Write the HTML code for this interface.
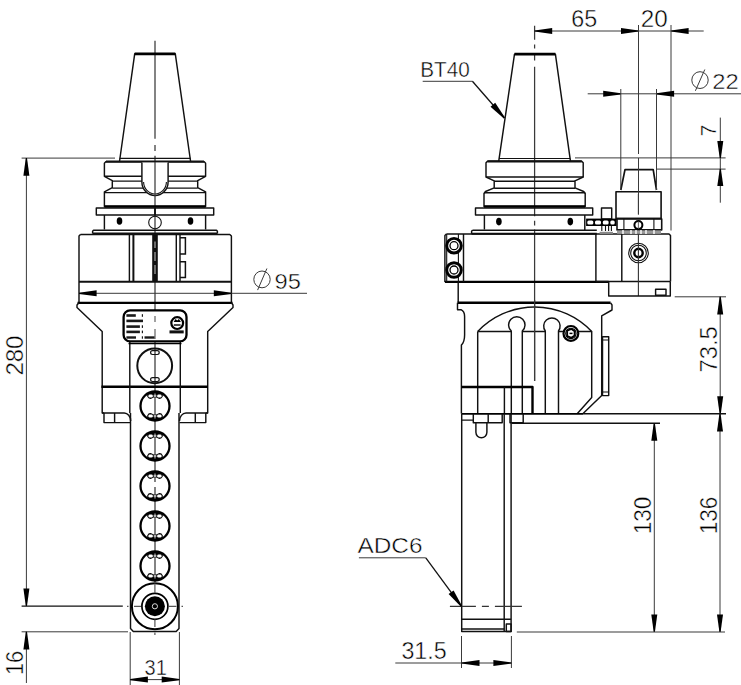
<!DOCTYPE html>
<html><head><meta charset="utf-8">
<style>
html,body{margin:0;padding:0;background:#fff;width:741px;height:685px;overflow:hidden}
svg{display:block}
.o{stroke:#111;stroke-width:1.45;fill:none;stroke-linejoin:round}
.t{stroke:#000;stroke-width:2.4;fill:none;stroke-linejoin:round}
.n{stroke:#111;stroke-width:1.1;fill:none}
.d{stroke:#3a3a3a;stroke-width:1;fill:none}
.c{stroke:#3a3a3a;stroke-width:1.25;fill:none}
.f{fill:#000;stroke:none}
text{font-family:"Liberation Sans",sans-serif;fill:#000;stroke:#fff;stroke-width:0.45}
</style></head><body>
<svg width="741" height="685" viewBox="0 0 741 685">
<!-- ================= LEFT VIEW ================= -->
<g id="L">
  <!-- centerline -->
  <path class="c" d="M155,40.7 V138.8 M155,145 V151 M155,155.7 V314 M155,319.5 V325 M155,330 V482 M155,487 V582"/>
  <!-- cone -->
  <path class="o" d="M119.5,161.5 L134.7,53.8 L175.3,53.8 L190.6,161.5"/>
  <line class="t" x1="134.7" y1="53.8" x2="175.3" y2="53.8" style="stroke-width:2.8"/>
  <line class="o" x1="119.5" y1="158.3" x2="190.6" y2="158.3" style="stroke-width:1.2"/>
  <!-- flange half (left) mirrored -->
  <g id="flL">
    <path class="o" d="M155,161.6 L106,161.6 L104.4,163.2 L104.4,176.3 L112.3,180.6 L112.3,187.6 L104.4,191.8 L104.4,206.5 L155,206.5"/>
    <line class="o" x1="104.4" y1="176.3" x2="155" y2="176.3"/>
    <line class="o" x1="112.3" y1="181.1" x2="155" y2="181.1"/>
    <line class="o" x1="112.3" y1="188.1" x2="155" y2="188.1"/>
    <line class="o" x1="104.4" y1="192.6" x2="155" y2="192.6"/>
    <line class="t" x1="104.4" y1="206.5" x2="155" y2="206.5"/>
    <rect class="o" x="96.3" y="208" width="58.7" height="7" />
    <path class="o" d="M104.4,215 L104.4,229.5"/>
    <ellipse class="f" cx="119.5" cy="221" rx="2.8" ry="3.8"/>
    <path class="o" d="M155,230.2 L93.5,230.2 L92.6,231.2 L92.6,233.6"/>
    <line class="o" x1="92.6" y1="233.6" x2="155" y2="233.6" style="stroke-width:2"/>
    <line class="o" x1="106" y1="161.6" x2="155" y2="161.6" style="stroke-width:2.2"/>
  </g>
  <use href="#flL" transform="translate(310,0) scale(-1,1)"/>
  <!-- U slot -->
  <path class="o" style="fill:#fff;fill:#fff" d="M141.9,162.4 L141.9,182 A13.1,13.6 0 0 0 168.1,182 L168.1,162.4"/>
  <path class="n" d="M143.6,182 A11.4,12 0 0 0 166.4,182"/>
  <line class="c" x1="155" y1="162" x2="155" y2="196"/>
  <circle class="n" cx="155" cy="222.5" r="6.3"/>
  <!-- housing -->
  <path class="o" d="M80.5,234.4 L229.8,234.4 L231.4,236 L231.4,302.7 M79,302.7 L79,236 L80.5,234.4"/>
  <line class="o" x1="79" y1="281.8" x2="231.4" y2="281.8" style="stroke-width:2"/>
  <line class="t" x1="77.5" y1="302.9" x2="232.5" y2="302.9"/>
  <line class="o" x1="129.4" y1="234.4" x2="129.4" y2="281.8"/>
  <line class="o" x1="133.4" y1="234.4" x2="133.4" y2="281.8" style="stroke-width:2"/>
  <rect x="152.2" y="235" width="5.6" height="46.5" fill="#111"/>
  <path d="M155,241.5 V248 M155,252 V261 M155,265 V274" stroke="#aaa" stroke-width="1.2"/>
  <line class="o" x1="176.3" y1="234.4" x2="176.3" y2="281.8"/>
  <line class="o" x1="180" y1="234.4" x2="180" y2="281.8"/>
  <path class="n" d="M180,237.8 L185.4,237.8 L185.4,254 L180,254 M180,261.7 L185.4,261.7 L185.4,277.6 L180,277.6" style="stroke-width:1.5"/>
  <!-- taper + lower block -->
  <path class="o" d="M79,302.7 L77,305 L77,307.5 L102.2,331.6 L102.2,413 L104,413 M231.4,302.7 L233,305 L233,307.5 L207.7,331.6 L207.7,413 L205.8,413"/>
  <line class="t" x1="101.4" y1="386.7" x2="207.9" y2="386.7"/>
  <line class="o" x1="129.8" y1="341.9" x2="129.8" y2="413"/>
  <line class="o" x1="180.3" y1="341.9" x2="180.3" y2="413"/>
  <!-- small feet -->
  <path class="o" d="M102.2,413 L104,413 L104,422.6 L114.6,422.6 L114.6,413 M104,413 L124,413 A6.5,8 0 0 1 130.7,421 M114.6,422.6 L130.7,422.6"/>
  <path class="o" d="M207.7,413 L205.8,413 L205.8,422.6 L195.3,422.6 L195.3,413 M205.8,413 L186,413 A6.5,8 0 0 0 179.5,421 M195.3,422.6 L179.5,422.6"/>
  <!-- arm -->
  <path class="o" d="M130.5,413 L130.5,628.5 L133.3,631.5 L176.2,631.5 L179,628.5 L179,413"/>
  <!-- label plate -->
  <rect x="123.6" y="310.4" width="62.9" height="31" rx="6.5" stroke="#000" stroke-width="2.3" fill="#fff"/>
  <g fill="#1a1a1a">
    <rect x="126.4" y="314.2" width="9.4" height="2.6"/><rect x="141.8" y="314.2" width="1.2" height="2.6"/>
    <rect x="126.4" y="319.6" width="15.6" height="2.6"/><rect x="142" y="319.6" width="1" height="2.6"/>
    <rect x="126.4" y="325.3" width="13.5" height="2.6"/><rect x="141.8" y="325.3" width="1.2" height="2.6"/>
    <rect x="126.4" y="330.6" width="13.5" height="2.6"/><rect x="141.8" y="330.6" width="1.2" height="2.6"/>
    <rect x="126.4" y="336.3" width="9.6" height="2.4"/><rect x="141.8" y="336.3" width="1.2" height="2.4"/><rect x="144.5" y="336.3" width="10.2" height="2.4"/>
  </g>
  <rect x="169.5" y="330.4" width="14.2" height="3" fill="#111"/>
  <circle cx="177.2" cy="323.1" r="5.9" fill="#fff" stroke="#000" stroke-width="2.2"/>
  <path d="M173.6,322 L175.6,319 L177.2,320.6 L178.9,319 L180.9,322 Z" fill="#000"/>
  <path d="M173.8,325 H180.6" stroke="#000" stroke-width="1.4"/>
  <path class="n" d="M155,316 V322 M155,329 V339" style="stroke:#555"/>
  <line x1="128.5" y1="343.6" x2="181.5" y2="343.6" stroke="#000" stroke-width="1.2"/>
  <!-- circles on arm -->
  <circle class="o" cx="154.7" cy="365.8" r="17.4" style="stroke-width:2"/>
  <rect class="n" x="150.6" y="350.6" width="8.6" height="3.9" rx="1.9" style="stroke-width:1.2"/><rect class="n" x="150.6" y="377.6" width="8.6" height="3.9" rx="1.9" style="stroke-width:1.2"/>
  <g id="bolt">
    <circle cx="155" cy="406" r="14.5" fill="none" stroke="#000" stroke-width="2.3"/>
    <g id="ear" transform="translate(155,406)">
      <path d="M-7.8,-12.3 A14.6,14.6 0 0 1 7.8,-12.3 L7.8,-9.5 Q6.5,-6.6 3.8,-7.2 L1.2,-8.4 L-1.2,-8.4 L-3.8,-7.2 Q-6.5,-6.6 -7.8,-9.5 Z" fill="#000"/>
      <rect x="-6.6" y="-11.6" width="4.4" height="3.2" rx="1.4" fill="#fff"/>
      <rect x="2.2" y="-11.6" width="4.4" height="3.2" rx="1.4" fill="#fff"/>
      <rect x="-1.3" y="-11.4" width="2.6" height="2.4" rx="0.8" fill="#fff"/>
      <line x1="0" y1="-13" x2="0" y2="-8" stroke="#666" stroke-width="1"/>
    </g>
    <use href="#ear" transform="translate(0,812) scale(1,-1)"/>
  </g>
  <use href="#bolt" transform="translate(0,40)"/>
  <use href="#bolt" transform="translate(0,80)"/>
  <use href="#bolt" transform="translate(0,120)"/>
  <use href="#bolt" transform="translate(0,160)"/>
  <!-- bottom nozzle -->
  <circle cx="154.9" cy="606.3" r="23" fill="#fff" stroke="#000" stroke-width="2"/>
  <circle cx="154.9" cy="606.3" r="13" fill="#fff" stroke="#000" stroke-width="1.7"/>
  <circle cx="154.9" cy="606.3" r="10" fill="#000"/>
  <circle cx="154.9" cy="606.3" r="2.6" fill="none" stroke="#ddd" stroke-width="1"/>
  <path d="M134,606.3 H141 M169,606.3 H176.5 M127,606.3 H128.5 M181.5,606.3 H183 M154.9,583.5 V593 M154.9,619.6 V627 M154.9,632.5 V635" stroke="#555" stroke-width="1.2"/>
</g>

<!-- ================= RIGHT VIEW ================= -->
<g id="R">
  <path class="c" d="M534.6,25.8 V39.7 M534.6,44.5 V48.5 M534.6,54.3 V60.6 M534.6,66.7 V216.2 M534.6,220.8 V225.4 M534.6,229.5 V381"/>
  <!-- cone -->
  <path class="o" d="M498.7,161.3 L514.5,54.2 L555.4,54.2 L570.5,161.3"/>
  <line class="t" x1="514.5" y1="54.2" x2="555.4" y2="54.2" style="stroke-width:2.8"/>
  <line class="o" x1="499" y1="158.5" x2="570.2" y2="158.5" style="stroke-width:1.2"/>
  <!-- flange -->
  <path class="o" d="M534.6,161.3 L487.5,161.3 L486,162.8 L486,177 L494.2,180.8 L494.2,187.8 L485.5,191.5 L484,193.5 L484,206.5 L534.6,206.5"/>
  <path class="o" d="M534.6,161.3 L581.7,161.3 L583.2,162.8 L583.2,177 L575,180.8 L575,187.8 L583.7,191.5 L585.2,193.5 L585.2,206.5 L534.6,206.5"/>
  <line class="o" x1="486" y1="177" x2="583.2" y2="177"/>
  <line class="o" x1="494.2" y1="181.2" x2="575" y2="181.2"/>
  <line class="o" x1="494.2" y1="188.2" x2="575" y2="188.2"/>
  <line class="o" x1="484" y1="192.7" x2="585.2" y2="192.7"/>
  <line class="t" x1="484" y1="206.5" x2="585.2" y2="206.5"/>
  <rect class="o" x="475.5" y="208" width="117.2" height="7"/>
  <line class="o" x1="484.4" y1="215" x2="484.4" y2="229.5"/>
  <line class="o" x1="584.8" y1="215" x2="584.8" y2="230.2"/>
  <ellipse class="f" cx="498.9" cy="221.6" rx="2.8" ry="3.8"/>
  <ellipse class="f" cx="570.3" cy="221.6" rx="2.8" ry="3.8"/>
  <path class="o" d="M472.5,230.2 L596.8,230.2 M472.5,230.2 L471.6,231.2 L471.6,233.8"/>
  <line class="o" x1="471.6" y1="233.8" x2="596.8" y2="233.8" style="stroke-width:2"/>
  <line class="o" x1="487.5" y1="161.3" x2="581.7" y2="161.3" style="stroke-width:2.2"/>
  <!-- housing -->
  <path class="o" d="M446.4,234 L669,234 L670.5,235.5 L670.5,281.5 M444.9,281.9 L444.9,235.5 L446.4,234"/>
  <line class="t" x1="444.9" y1="281.9" x2="608.7" y2="281.9"/>
  <line class="n" x1="446.7" y1="234" x2="446.7" y2="281.9"/>
  <line class="n" x1="458.4" y1="234" x2="458.4" y2="281.9"/>
  <line class="o" x1="463.5" y1="234" x2="463.5" y2="281.9"/>
  <line class="o" x1="595.9" y1="234" x2="595.9" y2="281.5"/>
  <line class="o" x1="621.8" y1="234" x2="621.8" y2="281.5"/>
  <line class="o" x1="595.9" y1="281.4" x2="670.5" y2="281.4"/>
  <g>
    <circle cx="454" cy="245.7" r="7.3" fill="#fff" stroke="#000" stroke-width="2.9"/>
    <circle cx="454" cy="245.7" r="4" fill="none" stroke="#000" stroke-width="1.3"/>
    <circle cx="454" cy="270" r="7.3" fill="#fff" stroke="#000" stroke-width="2.9"/>
    <circle cx="454" cy="270" r="4" fill="none" stroke="#000" stroke-width="1.3"/>
  </g>
  <circle class="n" cx="638.5" cy="253" r="9.8"/>
  <circle class="n" cx="638.5" cy="253" r="7.8"/>
  <circle class="t" cx="638.5" cy="253" r="4.2" style="stroke-width:2.4"/>
  <path class="n" d="M638.4,194 V214.4 M638.4,232 V296" style="stroke:#333"/>
  <!-- lower plate -->
  <path class="o" d="M608.7,281.4 L608.7,296 L670.3,296 L670.3,281.4"/>
  <rect class="o" x="655.6" y="289.2" width="10.4" height="6"/>
  <!-- top unit -->
  <path class="o" d="M620.8,190 L625,169.7 L653.2,169.7 L656.5,190" style="stroke-width:1.7"/>
  <rect class="o" x="616" y="191.8" width="45.1" height="26.8" style="stroke-width:1.6"/>
  <path class="o" d="M617,218.6 L617,229.9 L661.7,229.9 L661.7,218.6" style="stroke-width:1.6"/>
  <line class="o" x1="616" y1="218.6" x2="661.7" y2="218.6" style="stroke-width:1.8"/>
  <line class="n" x1="623.9" y1="218.6" x2="623.9" y2="229.9"/>
  <line class="n" x1="653.9" y1="218.6" x2="653.9" y2="229.9"/>
  <circle cx="638.4" cy="225.1" r="4" fill="#fff" stroke="#000" stroke-width="2"/>
  <line x1="638.4" y1="221.5" x2="638.4" y2="228.7" stroke="#666" stroke-width="1"/>
  <rect x="617" y="230.6" width="44" height="3.2" fill="#999"/>
  <path d="M623,230 v4 M631,230 v4 M636,230 v4 M641,230 v4 M646,230 v4 M654,230 v4" stroke="#fff" stroke-width="1.4"/>
  <rect class="o" x="601.5" y="208" width="10.2" height="11"/>
  <rect x="586.1" y="218.6" width="30.3" height="7.4" fill="#000"/>
  <g fill="#fff"><rect x="587.3" y="220.4" width="6" height="4" rx="1.5"/><rect x="595" y="220.4" width="6" height="4" rx="1.5"/><rect x="602.8" y="220.4" width="5.8" height="4" rx="1.5"/><rect x="610.3" y="220.4" width="4.4" height="4" rx="1.5"/></g>
  <path class="n" d="M601.8,226 V231 M605.5,226 V231 M608.6,226 V231 M611.4,226 V231 M616.4,218.6 H661.5"/>
  <rect x="599.6" y="231.8" width="13.4" height="2.2" fill="#888"/>
  <!-- lower section under housing -->
  <line class="o" x1="458.2" y1="281.9" x2="458.2" y2="302.6"/>
  <line class="t" x1="457.5" y1="302.8" x2="610.6" y2="302.8"/>
  <!-- body -->
  <path class="o" d="M457.5,302.8 L457.5,309.7 L461,309.7 Q464.6,311.5 464.6,316.5 L464.6,335 Q464.6,342 461.4,345 L461.4,413.6"/>
  <path class="o" d="M610.6,302.8 L612,305 L612,310 L601.7,315.9 L601.7,395.6 L583.1,413.6"/>
  <rect class="o" x="602.5" y="336.7" width="6.2" height="58.9"/>
  <path class="n" d="M602.5,340 h6.2 M602.5,392 h6.2"/>
  <path class="o" d="M477.7,331.5 A78.5,78.5 0 0 1 591.7,331.5"/>
  <path class="o" d="M477.7,331.5 L477.7,413.6 M591.7,331 L591.7,397.5 L577.4,413.6"/>
  <path class="o" d="M477.7,331.5 L511.3,331.5 M522.3,331.5 L545.3,331.5 M558.5,331.5 L591.7,331.5"/>
  <path class="o" d="M511.3,413.6 L511.3,331 A8.2,8.2 0 1 1 522.3,331 L522.3,413.6" style="fill:#fff;fill:#fff"/>
  <path class="o" d="M545.3,413.6 L545.3,331 A8.2,8.2 0 1 1 558.5,331 L558.5,413.6" style="fill:#fff;fill:#fff"/>
  <circle cx="570.9" cy="333.4" r="7.4" fill="#fff" stroke="#000" stroke-width="2.2"/>
  <circle cx="570.9" cy="333.4" r="5.2" fill="none" stroke="#000" stroke-width="1.1"/>
  <path d="M567.2,330.6 L571.5,329 L574.6,331.3 L574.6,335.5 L571.5,337.8 L567.2,336.2 Z" fill="none" stroke="#000" stroke-width="1.8"/>
  <path d="M569.5,333.4 h3" stroke="#000" stroke-width="1.5"/>
  <line class="c" x1="534.6" y1="300" x2="534.6" y2="381"/>
  <!-- lower-left block -->
  <path class="t" d="M461.4,387 L532.5,387 L532.5,413.6"/>
  <line class="o" x1="504.4" y1="387" x2="504.4" y2="413.6"/>
  <line class="t" x1="461.4" y1="413.8" x2="583.1" y2="413.8" style="stroke-width:1.7"/>
  <line class="o" x1="583.1" y1="413.8" x2="726" y2="413.8"/>
  <line class="o" x1="511.8" y1="423.2" x2="660" y2="423.2" style="stroke-width:1.4"/>
  <!-- feet -->
  <path class="o" d="M461.9,420.1 L473.3,420.1 M473.3,413.8 L473.3,422.8 L502.2,422.8 L502.2,413.8 M488.2,413.8 L488.2,422.8 M510,413.8 L510,422.8 L523.2,422.8 L523.2,413.8"/>
  <path class="o" d="M475.9,422.8 L475.9,432.3 A5.5,5.5 0 0 0 486.9,432.3 L486.9,422.8"/>
  <!-- arm -->
  <path class="o" d="M461.7,413.8 L461.7,631.4 L511.1,631.4 L511.1,413.8"/>
  <line class="o" x1="504.2" y1="413.8" x2="504.2" y2="631.4"/>
  <line class="o" x1="461.7" y1="619.2" x2="511.1" y2="619.2"/>
  <line class="o" x1="461.7" y1="628.9" x2="504.2" y2="628.9"/>
  <rect class="o" x="506.3" y="624" width="4.8" height="7.4"/>
  <line class="n" x1="449.9" y1="606.4" x2="522.2" y2="606.4" style="stroke:#333;stroke-dasharray:26 6 7 6 27"/>
</g>
<!-- DIMS -->
<line class="d" x1="21.6" y1="158.1" x2="115" y2="158.1"/>
<line class="d" x1="26.4" y1="158.1" x2="26.4" y2="606.1"/>
<polygon class="f" points="25.8,158.1 23.4,175.7 29.4,175.7 27.0,158.1"/>
<polygon class="f" points="25.8,606.1 23.4,588.5 29.4,588.5 27.0,606.1"/>
<line class="o" x1="21.6" y1="606.1" x2="122.8" y2="606.1" style="stroke-width:1.4"/>
<line class="d" x1="21.6" y1="631.8" x2="128" y2="631.8"/>
<line class="d" x1="26.4" y1="631.8" x2="26.4" y2="683"/>
<polygon class="f" points="25.8,631.8 23.4,649.4 29.4,649.4 27.0,631.8"/>
<line class="d" x1="130.2" y1="632" x2="130.2" y2="685"/>
<line class="d" x1="179.4" y1="632" x2="179.4" y2="685"/>
<line class="d" x1="130.2" y1="679.6" x2="179.4" y2="679.6"/>
<polygon class="f" points="130.2,679.0 147.9,676.6 147.9,682.6 130.2,680.2"/>
<polygon class="f" points="179.4,679.0 161.7,676.6 161.7,682.6 179.4,680.2"/>
<line class="d" x1="79" y1="293.3" x2="307" y2="293.3"/>
<polygon class="f" points="79.0,292.7 96.6,290.3 96.6,296.3 79.0,293.9"/>
<polygon class="f" points="231.4,292.7 213.8,290.3 213.8,296.3 231.4,293.9"/>
<ellipse class="d" cx="262" cy="279.4" rx="8.2" ry="8.4"/>
<line class="d" x1="257.6" y1="290.1" x2="266.9" y2="268.5"/>
<line class="d" x1="534.6" y1="31" x2="703.7" y2="31"/>
<polygon class="f" points="534.6,30.4 552.2,28.0 552.2,34.0 534.6,31.6"/>
<polygon class="f" points="638.6,30.4 621.0,28.0 621.0,34.0 638.6,31.6"/>
<polygon class="f" points="671.0,30.4 688.6,28.0 688.6,34.0 671.0,31.6"/>
<line class="d" x1="638.5" y1="25" x2="638.5" y2="154"/>
<line class="d" x1="638.5" y1="158" x2="638.5" y2="214.4"/>
<line class="d" x1="671" y1="25" x2="671" y2="230.5"/>
<line class="d" x1="587.7" y1="93.8" x2="741" y2="93.8"/>
<polygon class="f" points="620.8,93.2 603.2,90.8 603.2,96.8 620.8,94.4"/>
<polygon class="f" points="656.5,93.2 674.1,90.8 674.1,96.8 656.5,94.4"/>
<line class="d" x1="620.8" y1="89" x2="620.8" y2="190"/>
<line class="d" x1="656.5" y1="89" x2="656.5" y2="190"/>
<ellipse class="d" cx="700" cy="80.1" rx="8.2" ry="8.4"/>
<line class="d" x1="695.4" y1="90.8" x2="704.8" y2="69.5"/>
<line class="d" x1="575" y1="157.9" x2="725.6" y2="157.9"/>
<line class="d" x1="656.5" y1="169.1" x2="725.6" y2="169.1"/>
<line class="d" x1="720.3" y1="117.6" x2="720.3" y2="169"/>
<line class="d" x1="720.3" y1="168.7" x2="720.3" y2="202.7"/>
<polygon class="f" points="719.7,157.9 717.3,140.9 723.3,140.9 720.9,157.9"/>
<polygon class="f" points="719.7,169.1 717.3,186.1 723.3,186.1 720.9,169.1"/>
<line class="d" x1="674.7" y1="296.8" x2="726" y2="296.8"/>
<line class="d" x1="720.2" y1="296.8" x2="720.2" y2="414"/>
<polygon class="f" points="719.6,296.8 717.2,314.4 723.2,314.4 720.8,296.8"/>
<polygon class="f" points="719.6,413.8 717.2,396.2 723.2,396.2 720.8,413.8"/>
<line class="d" x1="720" y1="413.8" x2="720" y2="632"/>
<polygon class="f" points="719.4,413.8 717.0,431.4 723.0,431.4 720.6,413.8"/>
<polygon class="f" points="719.4,632.0 717.0,614.4 723.0,614.4 720.6,632.0"/>
<line class="d" x1="654.3" y1="423.2" x2="654.3" y2="632"/>
<polygon class="f" points="653.7,423.2 651.3,440.8 657.3,440.8 654.9,423.2"/>
<polygon class="f" points="653.7,632.0 651.3,614.4 657.3,614.4 654.9,632.0"/>
<line class="d" x1="516.8" y1="632" x2="725" y2="632" style="stroke-width:1.2"/>
<line class="d" x1="461.5" y1="636" x2="461.5" y2="668"/>
<line class="d" x1="511.4" y1="636" x2="511.4" y2="668"/>
<line class="d" x1="395.3" y1="663" x2="511.4" y2="663"/>
<polygon class="f" points="461.5,662.4 479.5,660.0 479.5,666.0 461.5,663.6"/>
<polygon class="f" points="511.4,662.4 493.4,660.0 493.4,666.0 511.4,663.6"/>
<line class="d" x1="422.7" y1="81.3" x2="472.4" y2="81.3"/>
<line class="d" x1="472.4" y1="81.3" x2="504.4" y2="118" style="stroke-width:1.3;stroke:#111"/>
<polygon class="f" points="503.9,118.4 490.5,106.8 495.2,102.7 504.9,117.6"/>
<line class="d" x1="358.9" y1="557.8" x2="425.8" y2="557.8"/>
<line class="d" x1="425.8" y1="557.8" x2="461.5" y2="606.4" style="stroke-width:1.3;stroke:#111"/>
<polygon class="f" points="461.0,606.8 448.6,594.1 453.6,590.4 462.0,606.0"/>
<text x="0" y="0" font-size="23.76" textLength="40.07" lengthAdjust="spacingAndGlyphs" transform="translate(22.6,375.6) rotate(-90)">280</text>
<text x="0" y="0" font-size="23.76" textLength="24.17" lengthAdjust="spacingAndGlyphs" transform="translate(22.5,675.1) rotate(-90)">16</text>
<text x="144.6" y="674.9" font-size="21.42" textLength="22.27" lengthAdjust="spacingAndGlyphs">31</text>
<text x="274.6" y="288.8" font-size="22.69" textLength="26.32" lengthAdjust="spacingAndGlyphs">95</text>
<text x="571.3" y="27.0" font-size="24.0" textLength="25.89" lengthAdjust="spacingAndGlyphs">65</text>
<text x="640.7" y="27.0" font-size="23.35" textLength="26.99" lengthAdjust="spacingAndGlyphs">20</text>
<text x="712.2" y="89.4" font-size="21.42" textLength="26.46" lengthAdjust="spacingAndGlyphs">22</text>
<text x="0" y="0" font-size="22.56" textLength="11.47" lengthAdjust="spacingAndGlyphs" transform="translate(716.0,136.2) rotate(-90)">7</text>
<text x="0" y="0" font-size="23.41" textLength="46.01" lengthAdjust="spacingAndGlyphs" transform="translate(716.6,372.4) rotate(-90)">73.5</text>
<text x="0" y="0" font-size="23.82" textLength="37.55" lengthAdjust="spacingAndGlyphs" transform="translate(716.6,534.2) rotate(-90)">136</text>
<text x="0" y="0" font-size="23.41" textLength="37.55" lengthAdjust="spacingAndGlyphs" transform="translate(651.0,534.2) rotate(-90)">130</text>
<text x="401.4" y="659.0" font-size="23.56" textLength="45.24" lengthAdjust="spacingAndGlyphs">31.5</text>
<text x="420.2" y="77.3" font-size="22.17" textLength="49.51" lengthAdjust="spacingAndGlyphs">BT40</text>
<text x="357.4" y="553.3" font-size="21.34" textLength="65.15" lengthAdjust="spacingAndGlyphs">ADC6</text>
<!-- /DIMS -->
</svg>
</body></html>
